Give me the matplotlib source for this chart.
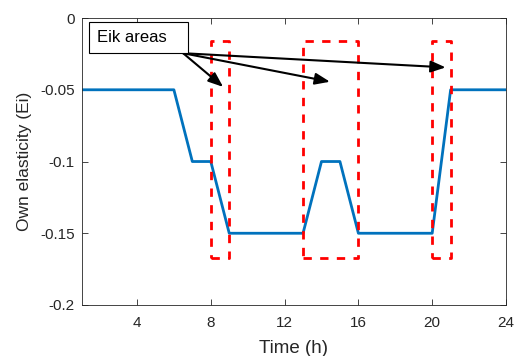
import matplotlib.pyplot as plt
import matplotlib.ticker as mticker
from matplotlib.patches import Rectangle

# data
hours = [1, 6, 7, 8, 9, 13, 14, 15, 16, 20, 21, 24]
elasticity = [-0.05, -0.05, -0.1, -0.1, -0.15, -0.15, -0.1, -0.1, -0.15, -0.15, -0.05, -0.05]

# Eik areas (x start, x end) and the vertical extent of the dashed boxes
area_x = [(8, 9), (13, 16), (20, 21)]
area_y = (-0.167, -0.016)
arrow_tail = (6.5, -0.0245)
arrow_heads = [(8.67, -0.048), (14.46, -0.0444), (20.73, -0.0344)]
label_box = (1.42, -0.0242, 5.33, 0.0212)  # x, y, width, height

plt.rcParams['font.family'] = ['Liberation Sans', 'DejaVu Sans']
axcol = '#262626'

fig = plt.figure(figsize=(5.15, 3.56), dpi=100)
ax = fig.add_axes([0.1585, 0.1433, 0.824, 0.806])

ax.plot(hours, elasticity, color='#0072BD', linewidth=2)

for x0, x1 in area_x:
    ax.plot([x0, x1, x1, x0, x0], [area_y[0], area_y[0], area_y[1], area_y[1], area_y[0]],
            color='#FF0000', linewidth=2, linestyle=(0, (3, 3)))

for hx, hy in arrow_heads:
    ax.annotate('', xy=(hx, hy), xytext=arrow_tail,
                arrowprops=dict(arrowstyle='-|>,head_length=0.9,head_width=0.35',
                                color='black', linewidth=1.5, shrinkA=0, shrinkB=0))

bx, by, bw, bh = label_box
ax.add_patch(Rectangle((bx, by), bw, bh, facecolor='white', edgecolor='black',
                       linewidth=0.8, zorder=3))
ax.text(bx + 0.4, by + bh / 2, 'Eik areas', fontsize=12, ha='left', va='center', zorder=4)

ax.set_xlim(1, 24)
ax.set_ylim(-0.2, 0)
ax.set_xticks([4, 8, 12, 16, 20, 24])
ax.set_yticks([0, -0.05, -0.1, -0.15, -0.2])
ax.yaxis.set_major_formatter(mticker.FuncFormatter(lambda v, _: f'{v:g}'))
ax.tick_params(direction='in', length=4, colors=axcol, labelsize=11,
               top=True, right=True, width=0.6)
ax.tick_params(axis='x', pad=8)
ax.tick_params(axis='y', pad=5)
for s in ax.spines.values():
    s.set_color(axcol)
    s.set_linewidth(0.6)

ax.set_xlabel('Time (h)', fontsize=13.5, color=axcol, labelpad=7)
ax.set_ylabel('Own elasticity (Ei)', fontsize=12.5, color=axcol, labelpad=6)

fig.savefig('out.png', dpi=100)
